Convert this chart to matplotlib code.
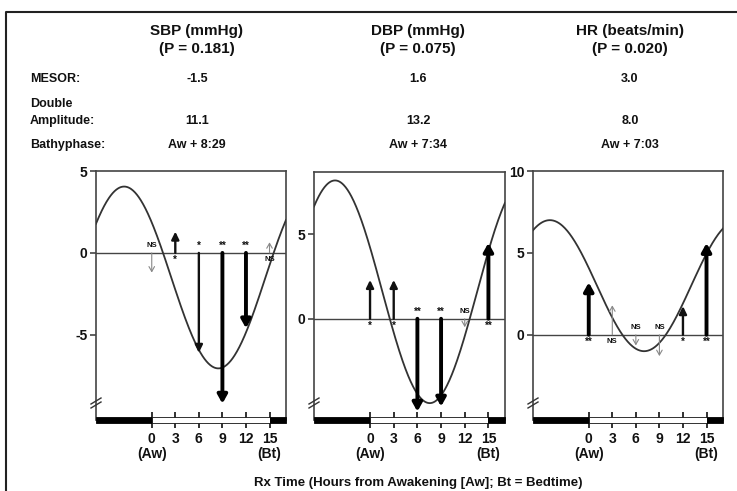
import numpy as np
import matplotlib
matplotlib.use("Agg")
import matplotlib.pyplot as plt
from matplotlib.lines import Line2D
from matplotlib.patches import Rectangle
import matplotlib.transforms as mtransforms

plt.rcParams['font.family'] = ['Liberation Sans', 'DejaVu Sans']
plt.rcParams['font.weight'] = 'bold'

# ---------------- data ----------------
titles = ["SBP (mmHg)", "DBP (mmHg)", "HR (beats/min)"]
p_values = ["(P = 0.181)", "(P = 0.075)", "(P = 0.020)"]
mesor_labels = ["-1.5", "1.6", "3.0"]
dbl_amp_labels = ["11.1", "13.2", "8.0"]
bathyphase_labels = ["Aw + 8:29", "Aw + 7:34", "Aw + 7:03"]

mesor = [-1.5, 1.6, 3.0]
double_amplitude = [11.1, 13.2, 8.0]
bathyphase_hours = [8 + 29 / 60, 7 + 34 / 60, 7 + 3 / 60]

rx_times = [0, 3, 6, 9, 12, 15]
x_tick_labels = ["0\n(Aw)", "3", "6", "9", "12", "15\n(Bt)"]

sbp_changes = [-1.2, 1.3, -6.1, -9.2, -4.6, 0.65]
dbp_changes = [2.3, 2.3, -5.5, -5.2, -0.5, 4.5]
hr_changes = [3.2, 1.8, -0.65, -1.3, 1.75, 5.6]

sbp_sig = ["NS", "*", "*", "**", "**", "NS"]
dbp_sig = ["*", "*", "**", "**", "NS", "**"]
hr_sig = ["**", "NS", "NS", "NS", "*", "**"]

y_ticks = [[-5, 0, 5], [0, 5], [0, 5, 10]]
y_limits = [(-10.2, 5.0), (-6.0, 8.7), (-5.2, 10.0)]
x_limits = (-7.1, 17.1)

changes = [sbp_changes, dbp_changes, hr_changes]
sigs = [sbp_sig, dbp_sig, hr_sig]

# ---------------- figure ----------------
W, H = 737, 491
fig = plt.figure(figsize=(W / 100, H / 100), dpi=100)

def fx(px):
    return px / W

def fy(py):
    return 1 - py / H

# outer frame (left & top)
fig.add_artist(Line2D([fx(6), fx(6), 1.0], [0.0, fy(12), fy(12)],
                      transform=fig.transFigure, color='#222222', lw=1.5))

panel_px = [(96, 286, 171), (314, 505, 172), (533, 723, 171)]
bottom_px = 420
header_x = [197, 418, 630]

txtc = '#111111'
# row labels
fig.text(fx(30), fy(79), "MESOR:", fontsize=9, fontweight='bold', color=txtc, va='center', ha='left')
fig.text(fx(30), fy(104), "Double", fontsize=9, fontweight='bold', color=txtc, va='center', ha='left')
fig.text(fx(30), fy(121), "Amplitude:", fontsize=9, fontweight='bold', color=txtc, va='center', ha='left')
fig.text(fx(30), fy(145), "Bathyphase:", fontsize=9, fontweight='bold', color=txtc, va='center', ha='left')

for i in range(3):
    cx = fx(header_x[i])
    fig.text(cx, fy(31), titles[i], fontsize=11, fontweight='bold', color=txtc, ha='center', va='center')
    fig.text(cx, fy(49), p_values[i], fontsize=11, fontweight='bold', color=txtc, ha='center', va='center')
    fig.text(cx, fy(79), mesor_labels[i], fontsize=9, fontweight='bold', color=txtc, ha='center', va='center')
    fig.text(cx, fy(121), dbl_amp_labels[i], fontsize=9, fontweight='bold', color=txtc, ha='center', va='center')
    fig.text(cx, fy(145), bathyphase_labels[i], fontsize=9, fontweight='bold', color=txtc, ha='center', va='center')

fig.text(fx(418), fy(483), "Rx Time (Hours from Awakening [Aw]; Bt = Bedtime)",
         fontsize=9.5, fontweight='bold', color=txtc, ha='center', va='center')

for i in range(3):
    l, r, t = panel_px[i]
    ax = fig.add_axes([fx(l), fy(bottom_px), (r - l) / W, (bottom_px - t) / H])
    ax.set_xlim(*x_limits)
    ax.set_ylim(*y_limits[i])

    # fitted cosine curve from MESOR, amplitude and bathyphase
    tt = np.linspace(x_limits[0], x_limits[1], 400)
    amp = double_amplitude[i] / 2
    acro = bathyphase_hours[i] - 12
    yy = mesor[i] + amp * np.cos(2 * np.pi * (tt - acro) / 24)
    ax.plot(tt, yy, color='#333333', lw=1.3, zorder=3)

    ax.axhline(0, color='#444444', lw=1.0, zorder=2)

    for t_rx, v, s in zip(rx_times, changes[i], sigs[i]):
        if s == "NS":
            ap = dict(arrowstyle='->,head_length=0.35,head_width=0.2', lw=0.8,
                      color='#888888', shrinkA=0, shrinkB=0)
        elif s == "*":
            ap = dict(arrowstyle='-|>,head_length=0.45,head_width=0.22', lw=1.7,
                      color='#111111', shrinkA=0, shrinkB=0)
        else:
            ap = dict(arrowstyle='-|>,head_length=0.5,head_width=0.28', lw=2.8,
                      color='#000000', shrinkA=0, shrinkB=0)
        ax.annotate('', xy=(t_rx, v), xytext=(t_rx, 0), arrowprops=ap, zorder=4)
        off = 5 if v < 0 else -5
        fs = 5.5 if s == "NS" else 7
        ax.annotate(s, xy=(t_rx, 0), xytext=(0, off), textcoords='offset points',
                    ha='center', va='center', fontsize=fs, fontweight='bold',
                    color='#111111', zorder=5)

    # spines
    for sp in ['left', 'top', 'right']:
        ax.spines[sp].set_color('#444444')
        ax.spines[sp].set_linewidth(1.2)
    ax.spines['bottom'].set_visible(False)

    # day/night bar at the bottom
    ah = (bottom_px - t)
    trans = mtransforms.blended_transform_factory(ax.transData, ax.transAxes)
    hb = 3.2 / ah
    ax.add_patch(Rectangle((x_limits[0], -hb), 0 - x_limits[0], 2 * hb, transform=trans,
                           facecolor='black', edgecolor='black', lw=0.6, clip_on=False, zorder=6))
    ax.add_patch(Rectangle((0, -hb), 15, 2 * hb, transform=trans,
                           facecolor='white', edgecolor='#111111', lw=0.6, clip_on=False, zorder=6))
    ax.add_patch(Rectangle((15, -hb), x_limits[1] - 15, 2 * hb, transform=trans,
                           facecolor='black', edgecolor='black', lw=0.6, clip_on=False, zorder=6))

    # axis break marks
    aw = (r - l)
    for dy in (0, 4):
        yc = (15 + dy) / ah
        ax.plot([-5 / aw, 5 / aw], [yc - 3 / ah, yc + 3 / ah], transform=ax.transAxes,
                color='#333333', lw=1.0, clip_on=False, zorder=7)

    ax.set_xticks(rx_times)
    ax.set_xticklabels(x_tick_labels, fontsize=10, fontweight='bold', color=txtc,
                       linespacing=1.15)
    ax.tick_params(axis='x', direction='inout', length=11, width=1.3, pad=3, color='#222222')
    for tl in ax.xaxis.get_major_ticks():
        tl.tick1line.set_zorder(8)
    ax.set_yticks(y_ticks[i])
    ax.set_yticklabels([str(v) for v in y_ticks[i]], fontsize=10, fontweight='bold', color=txtc)
    ax.tick_params(axis='y', direction='out', length=4, width=1.2, pad=2, color='#444444')

fig.savefig("out.png", dpi=100)
